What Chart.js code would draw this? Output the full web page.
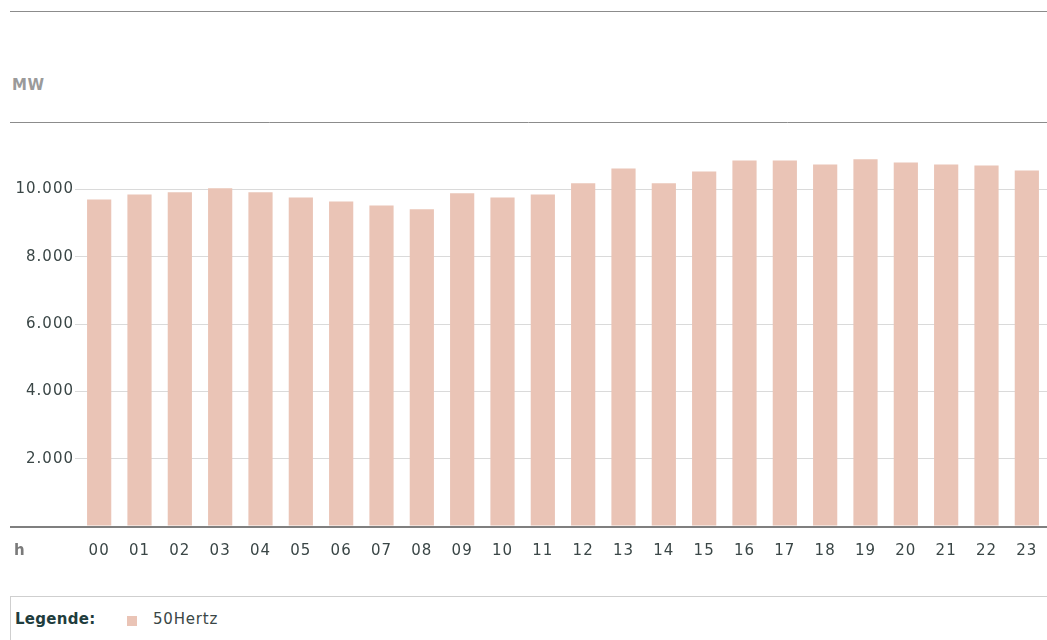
<!DOCTYPE html>
<html lang="de">
  <head>
    <meta charset="utf-8" />
    <script src="https://cdn.jsdelivr.net/npm/chart.js"></script>
    <title>Last 50Hertz</title>
    <style>
      body {
        margin: 0;
        padding: 0;
        background: #fff;
        font-family: "DejaVu Sans", Verdana, sans-serif;
      }

      #wrap {
        position: relative;
        width: 1047px;
        height: 640px;
        overflow: hidden;
      }

      .topline {
        position: absolute;
        left: 10px;
        right: 0;
        top: 11px;
        border-top: 1px solid #8c8c8c;
      }

      #unit {
        position: absolute;
        left: 12px;
        top: 76px;
        font-size: 15px;
        font-weight: bold;
        letter-spacing: 0.5px;
        color: #9a9a9a;
      }

      #xunit {
        position: absolute;
        left: 14px;
        top: 541px;
        font-size: 15px;
        font-weight: bold;
        color: #7a7a7a;
      }

      canvas {
        position: absolute;
        left: 0;
        top: 110px;
      }

      #legend {
        position: absolute;
        left: 10px;
        top: 596px;
        right: 0;
        height: 60px;
        border-top: 1px solid #cfcfcf;
        border-left: 1px solid #cfcfcf;
      }

      #legend b {
        position: absolute;
        left: 4px;
        top: 13px;
        font-size: 15px;
        letter-spacing: 0.3px;
        color: #1f3d3d;
      }

      #legend .swatch {
        position: absolute;
        left: 116px;
        top: 19px;
        width: 10px;
        height: 10px;
        background: #eac4b6;
      }

      #legend span.name {
        position: absolute;
        left: 142px;
        top: 13px;
        font-size: 15px;
        letter-spacing: 0.8px;
        color: #3a4646;
      }
    </style>
  </head>
  <body>
    <div id="wrap">
      <div class="topline"></div>
      <div id="unit">MW</div>
      <canvas id="lastChart" width="1047" height="470"></canvas>
      <div id="xunit">h</div>
      <div id="legend">
        <b>Legende:</b>
        <div class="swatch"></div>
        <span class="name">50Hertz</span>
      </div>
    </div>

    <script>
      // Stunden des Tages
      var stunden = ["00", "01", "02", "03", "04", "05", "06", "07", "08", "09", "10", "11",
                     "12", "13", "14", "15", "16", "17", "18", "19", "20", "21", "22", "23"];

      // Last in MW
      var last50Hertz = [9700, 9850, 9910, 10030, 9910, 9760, 9640, 9520, 9410, 9880, 9760, 9850,
                         10180, 10620, 10180, 10530, 10860, 10860, 10740, 10890, 10800, 10740, 10710, 10560];

      // Achse
      var yMin = 0;
      var yMax = 12000;
      var yStep = 2000;
      var yLabelWerte = [2000, 4000, 6000, 8000, 10000];

      var balkenFarbe = "#eac4b6";

      function formatDE(v) {
        return v.toLocaleString("de-DE");
      }

      // etwas breitere Schrift wie im Original (Verdana-Look)
      var sperrung = {
        id: "sperrung",
        beforeUpdate: function (chart) { chart.ctx.letterSpacing = "1px"; },
        beforeDraw: function (chart) { chart.ctx.letterSpacing = "1px"; }
      };

      // Linien oben (12.000) und unten (0) ueber die ganze Breite
      var randLinien = {
        id: "randLinien",
        afterDraw: function (chart) {
          var ctx = chart.ctx;
          var y = chart.scales.y;
          var right = chart.width;
          ctx.save();
          ctx.strokeStyle = "#8c8c8c";
          ctx.lineWidth = 1;
          var yTop = Math.round(y.getPixelForValue(yMax)) + 0.5;
          ctx.beginPath();
          ctx.moveTo(10, yTop);
          ctx.lineTo(right, yTop);
          ctx.stroke();

          ctx.strokeStyle = "#7f7f7f";
          ctx.lineWidth = 2;
          var yNull = Math.round(y.getPixelForValue(yMin)) + 1;
          ctx.beginPath();
          ctx.moveTo(10, yNull);
          ctx.lineTo(right, yNull);
          ctx.stroke();
          ctx.restore();
        }
      };

      var ctx = document.getElementById("lastChart").getContext("2d");
      var lastChart = new Chart(ctx, {
        type: "bar",
        data: {
          labels: stunden,
          datasets: [{
            label: "50Hertz",
            data: last50Hertz,
            backgroundColor: balkenFarbe,
            borderWidth: 0,
            categoryPercentage: 0.6,
            barPercentage: 1
          }]
        },
        options: {
          responsive: false,
          animation: false,
          layout: { padding: { top: 12, right: 0, bottom: 0, left: 0 } },
          plugins: {
            legend: { display: false },
            tooltip: { enabled: false }
          },
          scales: {
            x: {
              grid: { display: false, drawTicks: false },
              border: { display: false },
              ticks: {
                color: "#3a4646",
                font: { family: "DejaVu Sans", size: 15 },
                padding: 16,
                maxRotation: 0,
                autoSkip: false
              },
              afterFit: function (scale) {
                scale.height = 54;
                scale.paddingRight = 0;
              }
            },
            y: {
              min: yMin,
              max: yMax,
              border: { display: false },
              grid: {
                color: function (c) {
                  var v = c.tick ? c.tick.value : null;
                  return (v === yMin || v === yMax) ? "rgba(0,0,0,0)" : "#dadada";
                },
                tickLength: 4,
                tickColor: "#dadada"
              },
              ticks: {
                stepSize: yStep,
                color: "#3a4646",
                font: { family: "DejaVu Sans", size: 15 },
                padding: 1,
                callback: function (v) {
                  return yLabelWerte.indexOf(v) >= 0 ? formatDE(v) : "";
                }
              },
              afterFit: function (scale) { scale.width = 79; }
            }
          }
        },
        plugins: [sperrung, randLinien]
      });
    </script>
  </body>
</html>
